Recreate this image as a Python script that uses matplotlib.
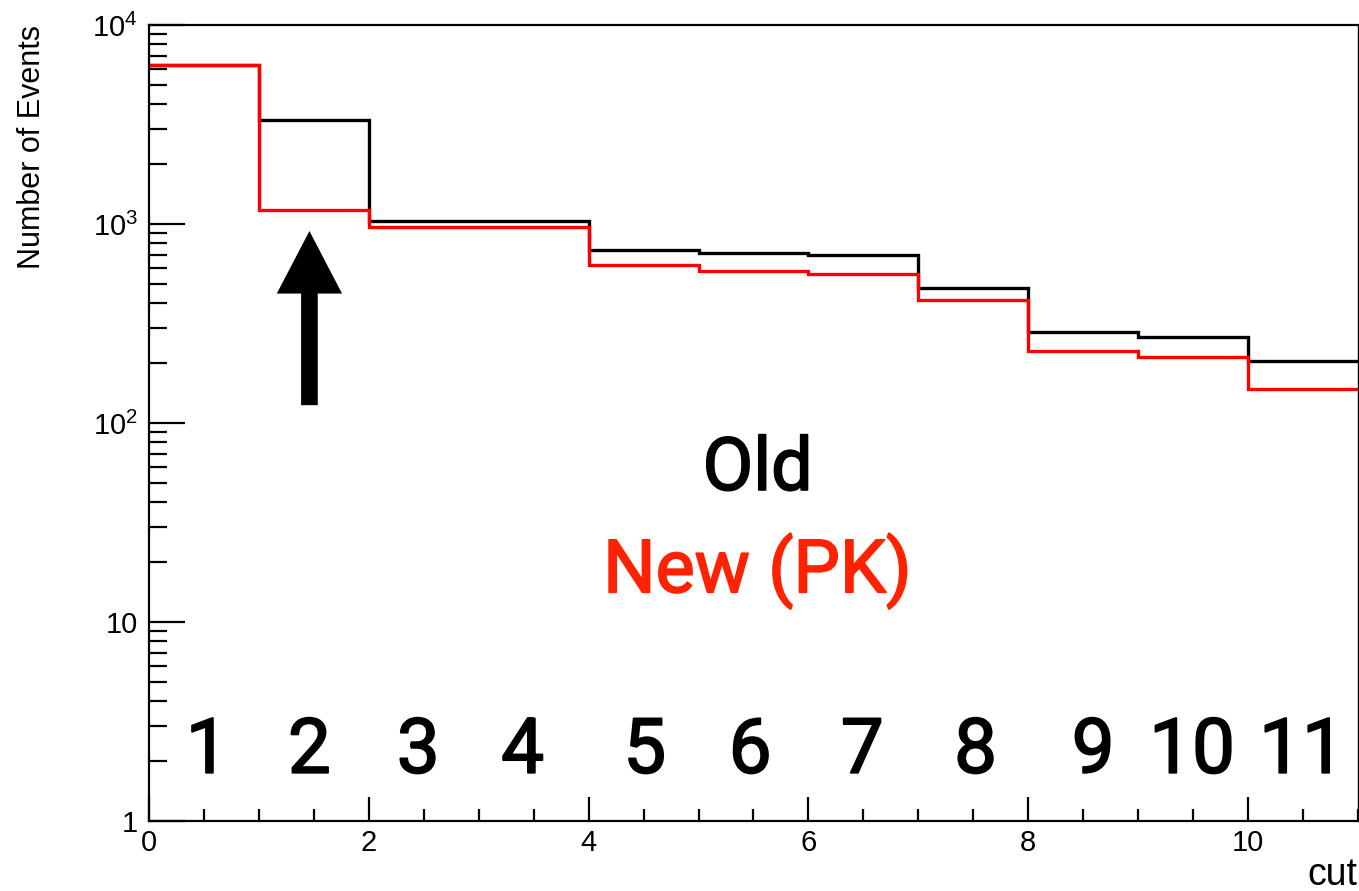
import numpy as np
import matplotlib
matplotlib.use("Agg")
import matplotlib.pyplot as plt
import matplotlib.patheffects as pe
from matplotlib.ticker import LogLocator, MultipleLocator, NullFormatter, FixedLocator, FixedFormatter

# Cut-flow event counts, one bin per cut
bin_edges = np.arange(0, 12)
old_counts = [6300, 3330, 1030, 1030, 740, 712, 700, 475, 288, 270, 206]
new_counts = [6300, 1176, 970, 970, 622, 583, 561, 415, 230, 214, 148]

cut_labels = ["1", "2", "3", "4", "5", "6", "7", "8", "9", "10", "11"]
cut_label_x = [0.53, 1.46, 2.45, 3.40, 4.51, 5.47, 6.49, 7.52, 8.59, 9.49, 10.49]

old_label = "Old"
new_label = "New (PK)"

plt.rcParams["font.family"] = ["Liberation Sans", "DejaVu Sans"]
plt.rcParams["mathtext.default"] = "regular"

fig = plt.figure(figsize=(13.59, 8.91), dpi=100)
ax = fig.add_axes([0.1096, 0.0785, 0.8897, 0.8934])

ax.stairs(old_counts, bin_edges, color="black", lw=2.4, baseline=None)
ax.stairs(new_counts, bin_edges, color="#ff0000", lw=2.4, baseline=None)

ax.set_yscale("log")
ax.set_xlim(0, 11)
ax.set_ylim(1, 1e4)

# ROOT-like axis decoration: ticks inside, minor ticks
ax.xaxis.set_major_locator(MultipleLocator(2))
ax.xaxis.set_minor_locator(MultipleLocator(0.5))
ax.yaxis.set_major_locator(FixedLocator([1, 10, 100, 1000, 10000]))
ax.yaxis.set_major_formatter(FixedFormatter(["1", "10", "$10^{2}$", "$10^{3}$", "$10^{4}$"]))
ax.yaxis.set_minor_locator(LogLocator(base=10, subs=np.arange(2, 10)))
ax.yaxis.set_minor_formatter(NullFormatter())
ax.tick_params(axis="both", which="both", direction="in", top=False, right=False,
               labelsize=21, width=1.6, color="black")
ax.tick_params(axis="x", which="major", length=17, pad=6)
ax.tick_params(axis="x", which="minor", length=8.5)
ax.tick_params(axis="y", which="major", length=26, pad=8)
ax.tick_params(axis="y", which="minor", length=13)
for s in ax.spines.values():
    s.set_linewidth(1.6)
ax.spines["right"].set_linewidth(1.0)

ax.set_ylabel("Number of Events", fontsize=22, loc="top")
ax.yaxis.set_label_coords(-0.084, 1.0)
ax.set_xlabel("cut", fontsize=27, loc="right")
ax.xaxis.set_label_coords(0.9992, -0.0806)
ax.xaxis.label.set_va("baseline")

# Arrow pointing at the second cut
ax.annotate("", xy=(1.46, 922), xytext=(1.46, 123),
            arrowprops=dict(arrowstyle="simple,head_length=45,head_width=47,tail_width=12",
                            mutation_scale=1, fc="black", ec="none",
                            shrinkA=0, shrinkB=0))

big_font = ["Roboto", "DejaVu Sans"]


def heavier(color):
    return [pe.withStroke(linewidth=1.3, foreground=color)]


ax.text(0.5034, 0.416, old_label, transform=ax.transAxes, ha="center", va="baseline",
        fontsize=53, color="black", family=big_font, path_effects=heavier("black"))
ax.text(0.5034, 0.2875, new_label, transform=ax.transAxes, ha="center", va="baseline",
        fontsize=53, color="#ff2200", family=big_font, path_effects=heavier("#ff2200"))

for lab, xpos in zip(cut_labels, cut_label_x):
    ax.text(xpos, 0.0607, lab, transform=ax.get_xaxis_transform(), ha="center",
            va="baseline", fontsize=55, color="black", family=big_font,
            path_effects=heavier("black"))

fig.savefig("out.png", dpi=100)
